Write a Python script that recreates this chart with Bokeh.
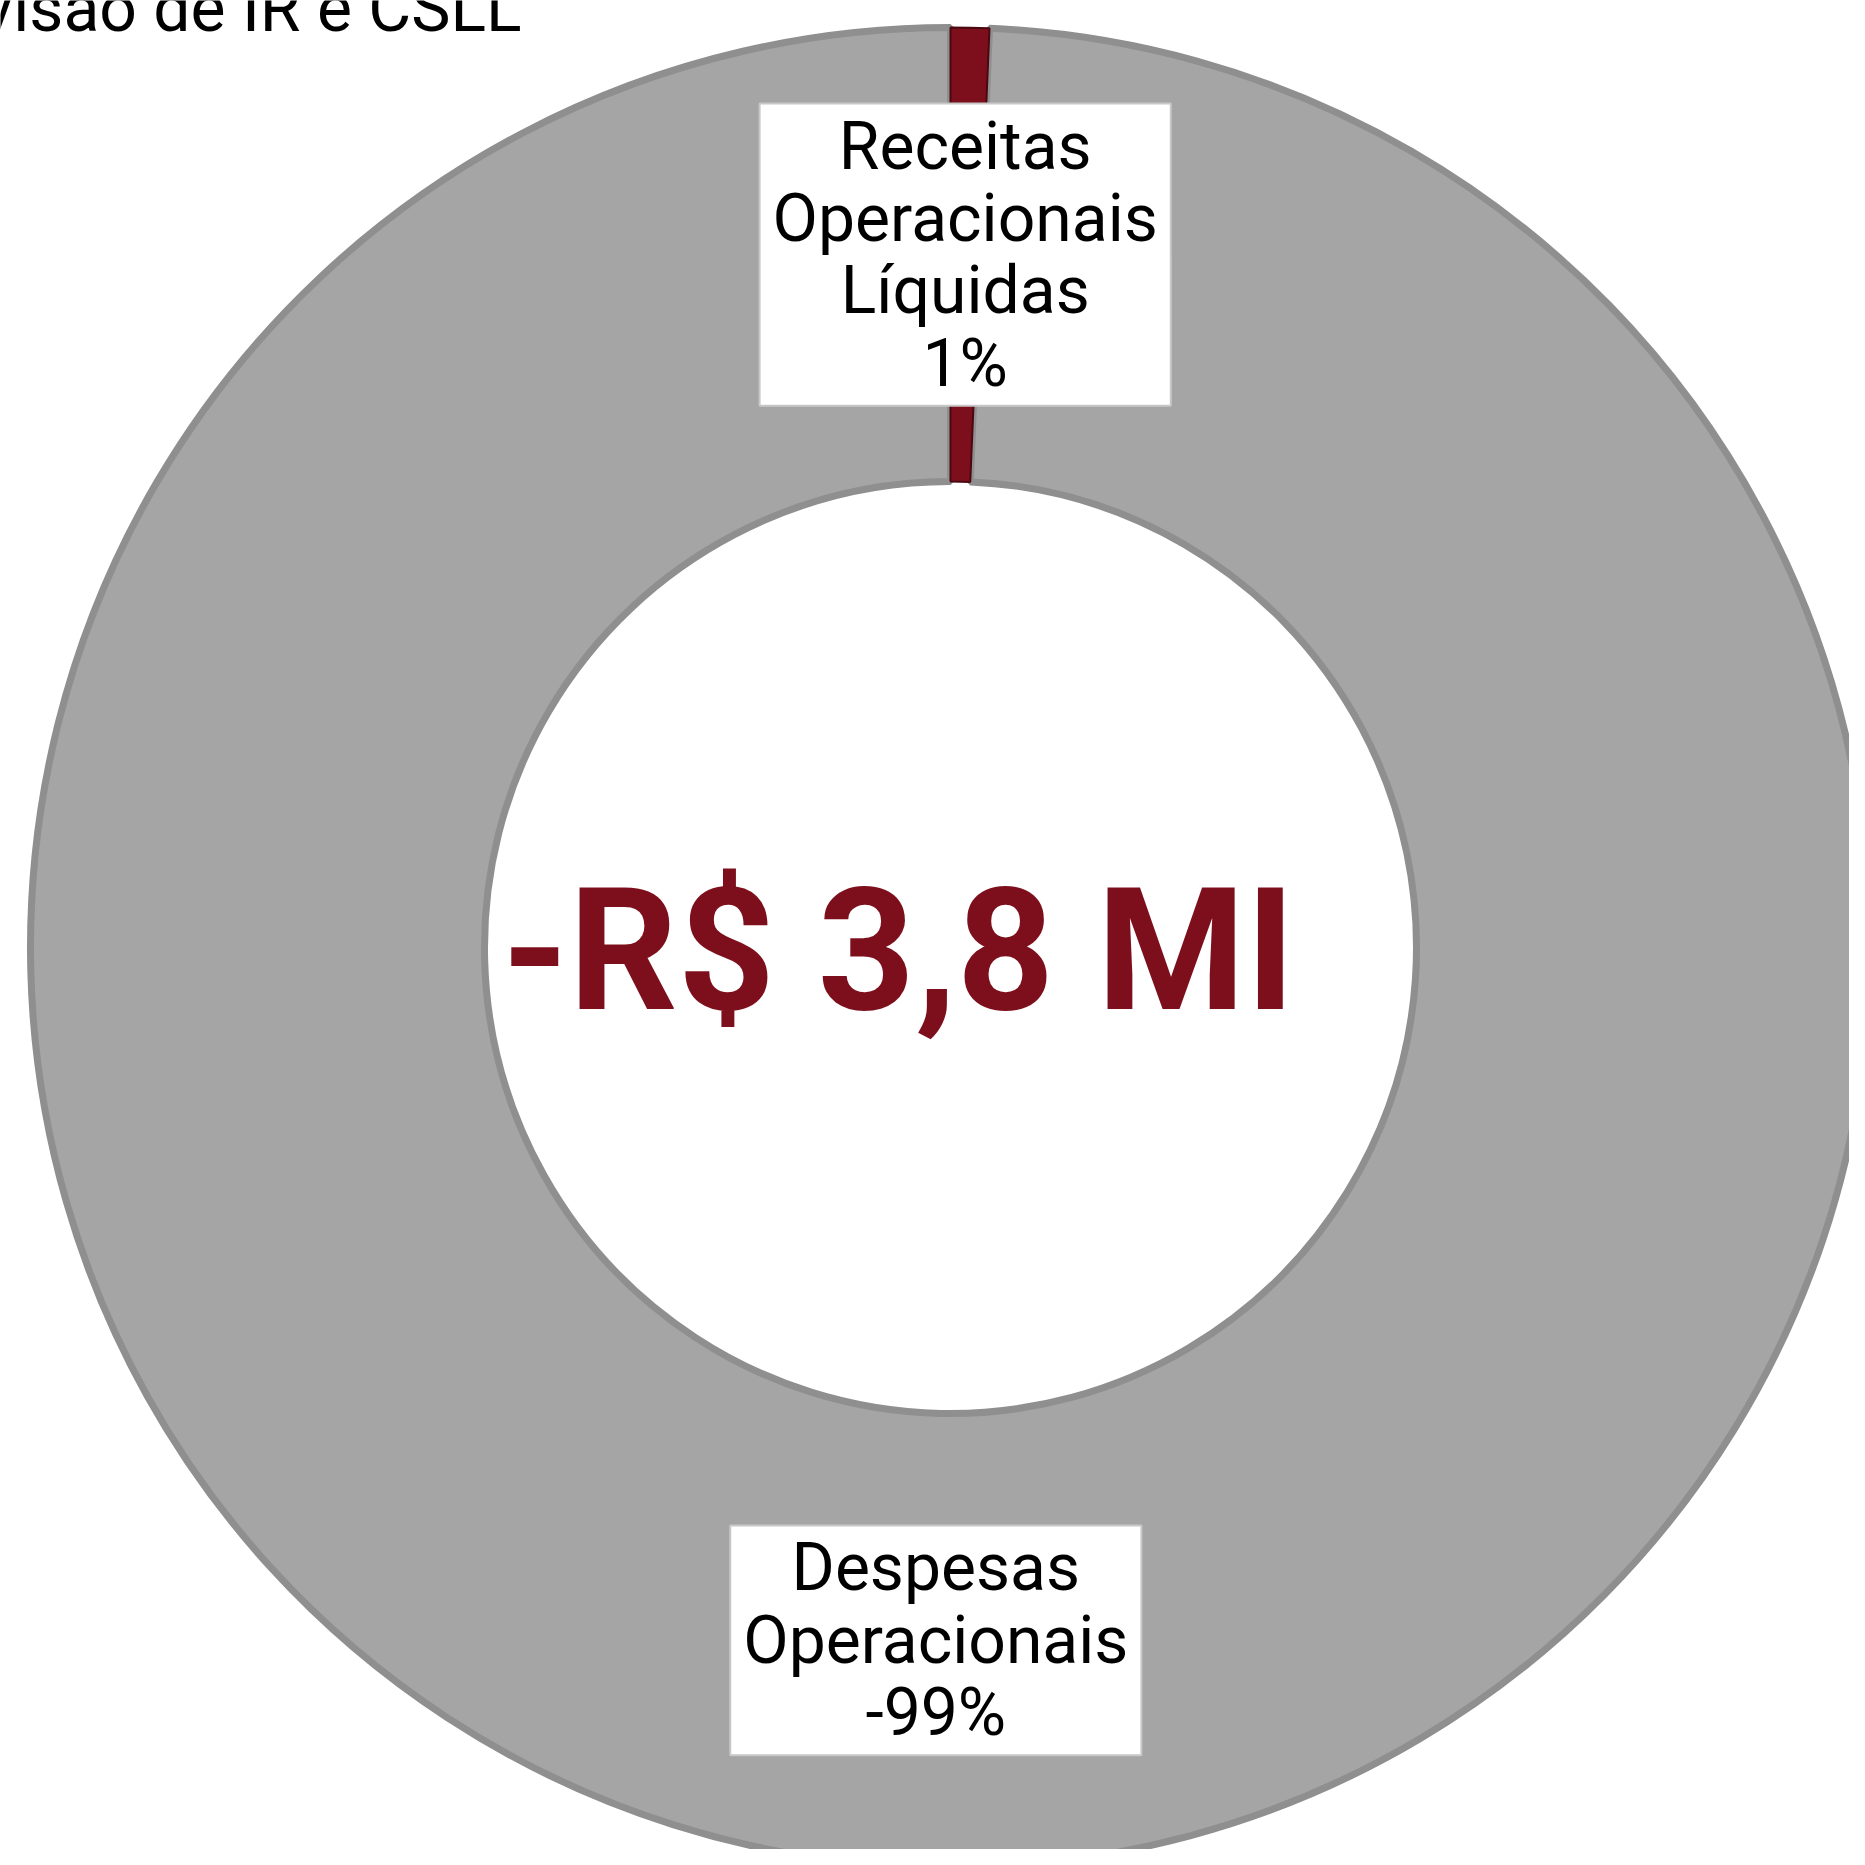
import numpy as np
from bokeh.plotting import figure
from bokeh.models import Range1d, Label
from bokeh.embed import file_html
from bokeh.resources import INLINE

# ---- data ----
categories = ["Receitas Operacionais Líquidas", "Despesas Operacionais", "Provisão de IR e CSLL"]
label_lines = ["Receitas\nOperacionais\nLíquidas", "Despesas\nOperacionais", "Provisão de IR e CSLL"]
values = [0.026, -3.826, 0.0]          # R$ milhões
colors = ["#7D0F1C", "#A5A5A5", "#E0E0E0"]
line_colors = ["#4A0810", "#8F8F8F", "#8F8F8F"]

# ---- geometry (pixels == data units) ----
W = H = 1849
cx_px, cy_px = 950, 947
R_OUT, R_IN = 920, 466

vals = np.array(values)
absv = np.abs(vals)
frac = absv / absv.sum()
cum_end = np.cumsum(frac)
cum_start = cum_end - frac
start_ang = np.pi / 2 - cum_end * 2 * np.pi
end_ang = np.pi / 2 - cum_start * 2 * np.pi
pct = np.round(100 * vals / absv.sum()).astype(int)
total = vals.sum()

p = figure(width=W, height=H, output_backend="svg", toolbar_location=None,
           x_range=Range1d(-cx_px, W - cx_px), y_range=Range1d(cy_px - H, cy_px),
           min_border=0, outline_line_color=None, background_fill_color="white",
           border_fill_color="white")
p.axis.visible = False
p.grid.visible = False

# draw gray first, then red on top
for i in [1, 0]:
    if frac[i] <= 0:
        continue
    p.annular_wedge(x=0, y=0, inner_radius=R_IN, outer_radius=R_OUT,
                    start_angle=start_ang[i], end_angle=end_ang[i],
                    fill_color=colors[i], line_color=line_colors[i],
                    line_width=7 if i == 1 else 2)

# data labels at mid-ring
r_mid = (R_IN + R_OUT) / 2
for i in range(2):
    mid = (start_ang[i] + end_ang[i]) / 2
    lx, ly = r_mid * np.cos(mid), r_mid * np.sin(mid)
    txt = f"{label_lines[i]}\n{pct[i]}%"
    p.add_layout(Label(x=lx, y=ly, text=txt, text_align="center", text_baseline="middle",
                       text_font="Roboto", text_font_size="66px", text_color="black",
                       text_line_height=0.94,
                       background_fill_color="white", background_fill_alpha=1.0,
                       border_line_color="#C8C8C8", border_line_width=2,
                       padding=(13, 4)))

# label of the zero-valued category (placed outside, top-left)
p.add_layout(Label(x=-429, y=939, text=label_lines[2], text_align="right",
                   text_baseline="alphabetic", text_font="Roboto", text_font_size="66px",
                   text_color="black"))

# centre total
total_txt = ("-" if total < 0 else "") + f"R$ {abs(total):.1f} MI".replace(".", ",")
p.add_layout(Label(x=-52, y=-3, text=total_txt, text_align="center",
                   text_baseline="alphabetic", text_font="Roboto", text_font_style="bold",
                   text_font_size="170px", text_color="#7D0F1C"))

open("out.html", "w").write(file_html(p, INLINE))
